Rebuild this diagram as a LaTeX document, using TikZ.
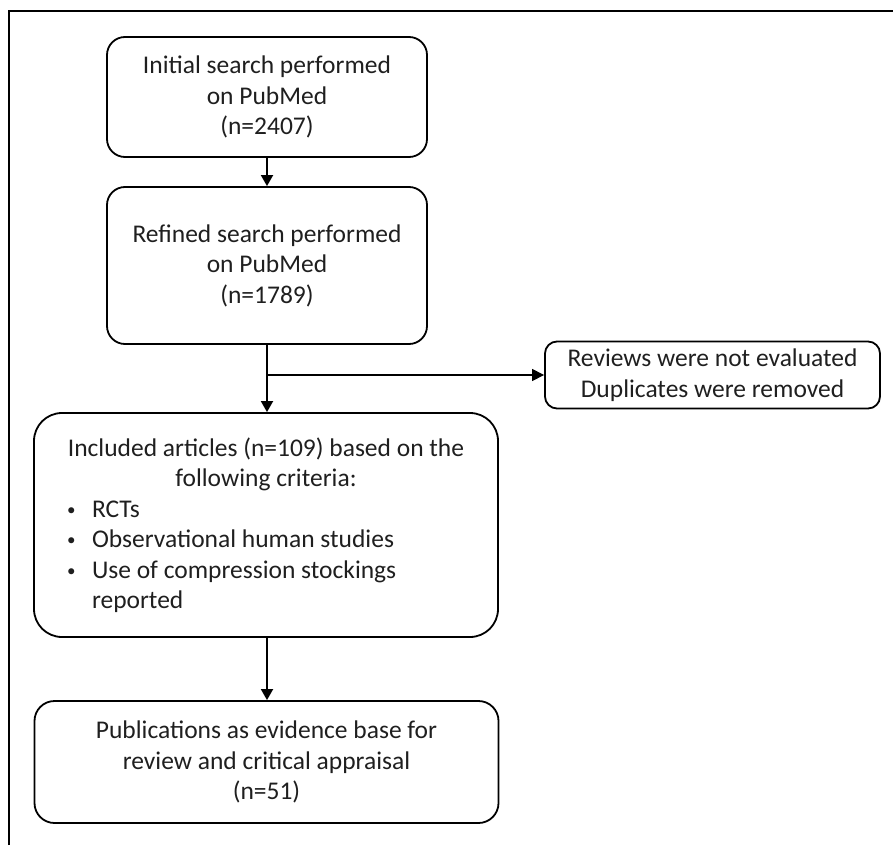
\documentclass[tikz,border=0pt]{standalone}
\usepackage{fontspec}
\setmainfont{Carlito}
\usetikzlibrary{arrows.meta}
\newcommand{\critem}{\hspace*{21pt}\makebox[25pt][l]{\raisebox{2pt}{\fontsize{17}{17}\selectfont\textbullet}}}

\begin{document}
\begin{tikzpicture}[x=1pt,y=-1pt,
		box/.style={draw=black, line width=1.8pt, rounded corners=18pt, align=center, inner sep=0pt, text=black!88, font=\fontsize{25.5}{30.5}\selectfont},
		arr/.style={line width=1.8pt, -{Triangle[length=11pt,width=12pt]}},
		thinarr/.style={line width=1.1pt, -{Triangle[length=12pt,width=12pt]}}]
				\useasboundingbox (0,0) rectangle (893,845);
				\draw [line width=2.5pt] (9,845) -- (9,11) -- (893,11);
				\node [box, minimum width=320, minimum height=120] (init) at (267,97) {Initial search performed\\on PubMed\\(n=2407)};
				\node [box, minimum width=320, minimum height=157] (refine) at (267,265.5) {Refined search performed\\on PubMed\\(n=1789)};
				\node [box, rounded corners=12pt, minimum width=335, minimum height=67] (reviews) at (712.5,375) {Reviews were not evaluated\\Duplicates were removed};
				\node [box, rounded corners=28pt, minimum width=464, minimum height=224] (incl) at (266,525) {Included articles (n=109) based on the\\following criteria:\\\parbox[t]{440pt}{\critem RCTs\\\critem Observational human studies\\\critem Use of compression stockings\\\hspace*{46pt}reported}};
				\node [box, rounded corners=20pt, minimum width=464, minimum height=122] (pubs) at (266.5,762) {Publications as evidence base for\\review and critical appraisal\\(n=51)};
				\coordinate (split) at (refine.south |- reviews.west);
				\draw [arr] (init) -- (refine);
				\draw [arr] (refine.south) -- (refine.south |- incl.north);
				\draw [thinarr] (split) -- (reviews.west);
				\draw [arr] (incl.south -| refine.south) -- (refine.south |- pubs.north);
\end{tikzpicture}
\end{document}
